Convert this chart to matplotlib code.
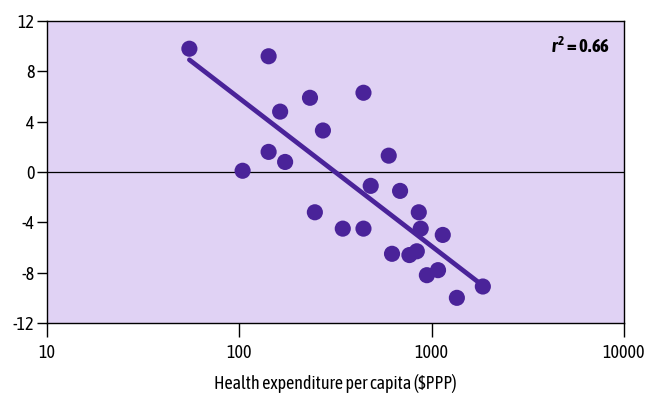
import numpy as np
import matplotlib.pyplot as plt
from matplotlib import font_manager

# pick a condensed family if one is installed (the reference uses a narrow sans)
fonts = font_manager.fontManager.ttflist
narrow = sorted({f.name for f in fonts
                 if 'Narrow' in f.name or 'Condensed' in f.name})
bold_ok = [n for n in narrow
           if any(f.name == n and f.weight in ('bold', 700) for f in fonts)]
family = (bold_ok or narrow or ['Liberation Sans'])[0]
plt.rcParams['font.family'] = [family, 'DejaVu Sans']
plt.rcParams['axes.unicode_minus'] = False
plt.rcParams['mathtext.fontset'] = 'custom'
plt.rcParams['mathtext.it'] = family + ':italic:bold'
plt.rcParams['mathtext.bf'] = family + ':bold'
plt.rcParams['mathtext.rm'] = family + ':bold'

# health expenditure per capita ($PPP) and change (y)
spend = [55, 142, 233, 163, 442, 272, 142, 173, 104, 598, 482, 685, 247, 857,
         345, 442, 877, 1142, 622, 766, 837, 1079, 944, 1352, 1845]
change = [9.8, 9.2, 5.9, 4.8, 6.3, 3.3, 1.6, 0.8, 0.1, 1.3, -1.1, -1.5, -3.2, -3.2,
          -4.5, -4.5, -4.5, -5.0, -6.5, -6.6, -6.3, -7.8, -8.2, -10.0, -9.1]
r2_label = '0.66'

point_color = '#4a2399'
bg_color = '#e0d2f4'

fig = plt.figure(figsize=(6.47, 3.97), dpi=100)
ax = fig.add_axes([0.0726, 0.1864, 0.8919, 0.7606])
ax.set_facecolor(bg_color)

ax.axhline(0, color='black', lw=0.9, zorder=1)

# regression line on log10(x)
lx = np.log10(spend)
slope, icept = np.polyfit(lx, change, 1)
xs = np.array([min(spend), max(spend)])
ax.plot(xs, icept + slope * np.log10(xs), color=point_color, lw=3.4,
        solid_capstyle='round', zorder=2)

ax.scatter(spend, change, s=135, color=point_color, edgecolors='none', zorder=3)

ax.set_xscale('log')
ax.set_xlim(10, 10000)
ax.set_ylim(-12, 12)
ax.set_xticks([10, 100, 1000, 10000])
ax.set_xticklabels(['10', '100', '1000', '10000'])
ax.minorticks_off()
ax.set_yticks([-12, -8, -4, 0, 4, 8, 12])
ax.tick_params(axis='both', direction='out', length=7, width=1, labelsize=13,
               colors='black', pad=2)
ax.tick_params(axis='x', length=10, pad=5)
for s in ax.spines.values():
    s.set_color('black')
    s.set_linewidth(1)

ax.set_xlabel('Health expenditure per capita ($PPP)', fontsize=13, labelpad=9)

ax.text(0.975, 0.915, r'$\mathit{r}^{\mathbf{2}}$' + ' = ' + r2_label,
        transform=ax.transAxes, ha='right', va='center', fontsize=13.5,
        fontweight='bold')

fig.savefig('out.png', dpi=100)
